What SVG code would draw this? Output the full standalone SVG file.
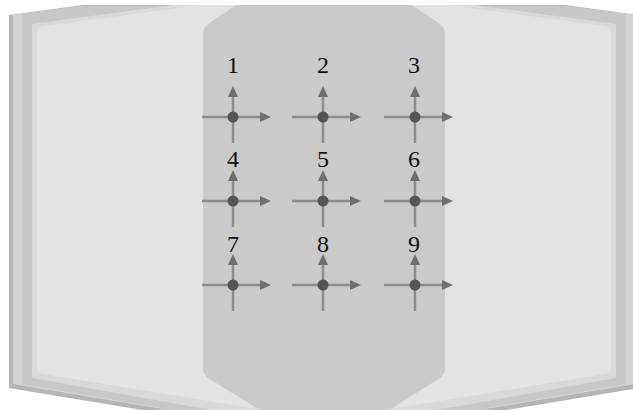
<svg xmlns="http://www.w3.org/2000/svg" xmlns:xlink="http://www.w3.org/1999/xlink" width="633" height="410" viewBox="0 0 633 410">
  <style>
    .axis { stroke: #8c8c8c; stroke-width: 2.5; fill: none; }
    .head { fill: #6f6f6f; }
    .origin { fill: #555555; }
    .label { font-family: "Liberation Serif", "Times New Roman", serif; font-size: 24px; fill: #111111; text-anchor: middle; }
  </style>
  <defs>
    <!-- a small pair of axes: up and right arrows from a dot -->
    <g id="axes">
      <line class="axis" x1="-31" y1="0" x2="28" y2="0"/>
      <line class="axis" x1="0" y1="26" x2="0" y2="-21"/>
      <polygon class="head" points="27,-5 38,0 27,5"/>
      <polygon class="head" points="-5,-20 0,-31 5,-20"/>
      <circle class="origin" cx="0" cy="0" r="5.5"/>
    </g>
  </defs>

  <rect x="0" y="0" width="633" height="410" fill="#ffffff"/>

  <!-- book body: stacked page edges -->
  <g id="book">
    <path fill="#b5b5b5" d="M9,15 L83,5 L565,5 L639,15 L639,388 L324,440 L9,388 Z"/>
    <path fill="#d4d4d4" d="M13,15 L83,6 L565,6 L635,15 L635,384 L324,436 L13,384 Z"/>
    <path fill="#c8c8c8" d="M22,14 L83,6 L565,6 L626,14 L626,384 L324,436 L22,384 Z"/>
    <path fill="#d9d9d9" d="M32,24 L173,5 L475,5 L616,24 L616,378 L324,430 L32,378 Z"/>
    <path fill="#e3e3e3" d="M37,33 Q37,27 43,26.2 L200,5 L448,5 L605,26.2 Q611,27 611,33 L611,367 Q611,373 605,374 L324,420 L43,374 Q37,373 37,367 Z"/>
  </g>

  <!-- central panel -->
  <g id="panel">
    <path fill="#cacaca" d="M240,5 L408,5 Q412,5 415,7 L440,24 Q445,28 445,34 L445,368 Q445,374 440,378 L386,412 L263,412 L208,378 Q203,374 203,368 L203,34 Q203,28 208,24 L233,7 Q236,5 240,5 Z"/>
  </g>

  <g id="connectors"/>

  <g id="node-1"><use xlink:href="#axes" x="233" y="117"/><text class="label" x="233" y="73">1</text></g>
  <g id="node-2"><use xlink:href="#axes" x="323" y="117"/><text class="label" x="323" y="73">2</text></g>
  <g id="node-3"><use xlink:href="#axes" x="415" y="117"/><text class="label" x="414" y="73">3</text></g>

  <g id="node-4"><use xlink:href="#axes" x="233" y="201"/><text class="label" x="233" y="167">4</text></g>
  <g id="node-5"><use xlink:href="#axes" x="323" y="201"/><text class="label" x="323" y="167">5</text></g>
  <g id="node-6"><use xlink:href="#axes" x="415" y="201"/><text class="label" x="414" y="167">6</text></g>

  <g id="node-7"><use xlink:href="#axes" x="233" y="285"/><text class="label" x="233" y="252">7</text></g>
  <g id="node-8"><use xlink:href="#axes" x="323" y="285"/><text class="label" x="323" y="252">8</text></g>
  <g id="node-9"><use xlink:href="#axes" x="415" y="285"/><text class="label" x="414" y="252">9</text></g>
</svg>
